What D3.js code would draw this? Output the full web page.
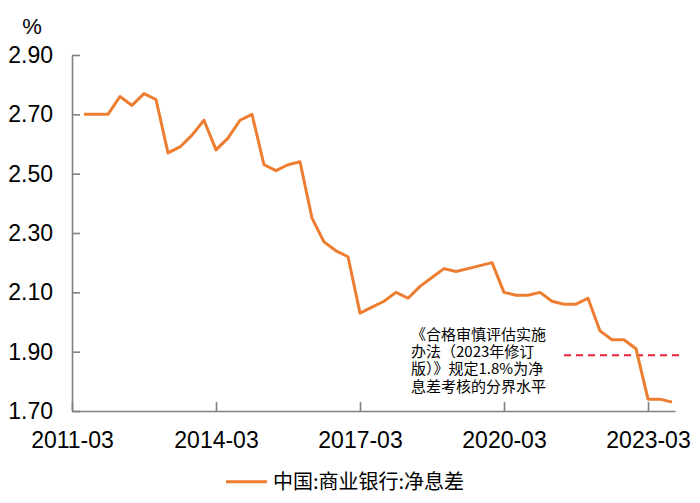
<!DOCTYPE html>
<html>
<head>
<meta charset="utf-8">
<script src="https://cdn.jsdelivr.net/npm/d3@7"></script>
<style>
  html, body { margin: 0; padding: 0; background: #fff; }
  svg { display: block; }
</style>
</head>
<body>
<svg id="chart" width="700" height="503"></svg>
<script>
// ---- data ----
const quarters = [
  "2011-06","2011-09","2011-12",
  "2012-03","2012-06","2012-09","2012-12",
  "2013-03","2013-06","2013-09","2013-12",
  "2014-03","2014-06","2014-09","2014-12",
  "2015-03","2015-06","2015-09","2015-12",
  "2016-03","2016-06","2016-09","2016-12",
  "2017-03","2017-06","2017-09","2017-12",
  "2018-03","2018-06","2018-09","2018-12",
  "2019-03","2019-06","2019-09","2019-12",
  "2020-03","2020-06","2020-09","2020-12",
  "2021-03","2021-06","2021-09","2021-12",
  "2022-03","2022-06","2022-09","2022-12",
  "2023-03","2023-06","2023-09"
];
const netInterestMargin = [
  2.70, 2.70, 2.70,
  2.76, 2.73, 2.77, 2.75,
  2.57, 2.59, 2.63, 2.68,
  2.58, 2.62, 2.68, 2.70,
  2.53, 2.51, 2.53, 2.54,
  2.35, 2.27, 2.24, 2.22,
  2.03, 2.05, 2.07, 2.10,
  2.08, 2.12, 2.15, 2.18,
  2.17, 2.18, 2.19, 2.20,
  2.10, 2.09, 2.09, 2.10,
  2.07, 2.06, 2.06, 2.08,
  1.97, 1.94, 1.94, 1.91,
  1.74, 1.74, 1.73
];
const xTickLabels = ["2011-03","2014-03","2017-03","2020-03","2023-03"];
const yTickValues = [1.70, 1.90, 2.10, 2.30, 2.50, 2.70, 2.90];
const thresholdValue = [1.888];
const thresholdSpan = ["2021-06","2023-12"];
const seriesName = "中国:商业银行:净息差";
const yUnit = "%";
const annotationLines = [
  "《合格审慎评估实施",
  "办法（2023年修订",
  "版）》规定1.8%为净",
  "息差考核的分界水平"
];

// ---- helpers ----
const qIndex = s => {
  const [yr, m] = s.split("-").map(Number);
  return (yr - 2011) * 4 + (m - 3) / 3;
};

const svg = d3.select("#chart");
const M = { left: 72, right: 675, top: 55, bottom: 411 };
const latin = "'Liberation Sans', Arial, Helvetica, sans-serif";
const cjk = "'Noto Sans CJK SC', 'Liberation Sans', sans-serif";
const axisColor = "#808080";
const lineColor = "#ED7D31";

const x = d3.scaleLinear().domain([0, 50.25]).range([M.left, M.right]);
const y = d3.scaleLinear().domain([1.70, 2.90]).range([M.bottom, M.top]);

// y axis
const yAxis = svg.append("g")
  .attr("transform", `translate(${M.left},0)`)
  .call(d3.axisLeft(y).tickValues(yTickValues).tickFormat(d3.format(".2f"))
        .tickSize(-8).tickSizeOuter(0).tickPadding(19));
yAxis.select(".domain").attr("stroke", axisColor).attr("stroke-width", 1.6);
yAxis.selectAll(".tick line").attr("stroke", axisColor).attr("stroke-width", 1.6);
yAxis.selectAll(".tick text").attr("fill", "#000").style("font-family", latin).style("font-size", "23px");

// x axis
const xAxis = svg.append("g")
  .attr("transform", `translate(0,${M.bottom})`)
  .call(d3.axisBottom(x).tickValues(xTickLabels.map(qIndex))
        .tickFormat((d, i) => xTickLabels[i])
        .tickSize(-9).tickSizeOuter(0).tickPadding(21));
xAxis.select(".domain").attr("stroke", axisColor).attr("stroke-width", 1.6);
xAxis.selectAll(".tick line").attr("stroke", axisColor).attr("stroke-width", 1.6);
xAxis.selectAll(".tick text").attr("fill", "#000").style("font-family", latin).style("font-size", "23px");

// unit label
svg.append("text").attr("x", 32).attr("y", 34).attr("text-anchor", "middle")
  .style("font-family", latin).style("font-size", "22px").attr("fill", "#000").text(yUnit);

// threshold dashed line
svg.append("line")
  .attr("x1", x(qIndex(thresholdSpan[0]))).attr("x2", x(qIndex(thresholdSpan[1])))
  .attr("y1", y(thresholdValue[0])).attr("y2", y(thresholdValue[0]))
  .attr("stroke", "#E8203A").attr("stroke-width", 2).attr("stroke-dasharray", "7,5");

// series line
const pts = quarters.map((q, i) => [qIndex(q), netInterestMargin[i]]);
svg.append("path")
  .datum(pts)
  .attr("fill", "none")
  .attr("stroke", lineColor)
  .attr("stroke-width", 3)
  .attr("stroke-linejoin", "round")
  .attr("d", d3.line().x(d => x(d[0])).y(d => y(d[1])));

// annotation
const ann = svg.append("text")
  .attr("x", 411).attr("y", 340)
  .style("font-family", cjk).style("font-size", "15px").attr("fill", "#000");
annotationLines.forEach((t, i) => {
  ann.append("tspan").attr("x", 411).attr("dy", i === 0 ? 0 : 17.2).text(t);
});

// legend
svg.append("line").attr("x1", 226).attr("x2", 267).attr("y1", 481.7).attr("y2", 481.7)
  .attr("stroke", lineColor).attr("stroke-width", 3);
svg.append("text").attr("x", 273).attr("y", 489)
  .style("font-family", cjk).style("font-size", "20px").attr("fill", "#000").text(seriesName);
</script>
</body>
</html>
